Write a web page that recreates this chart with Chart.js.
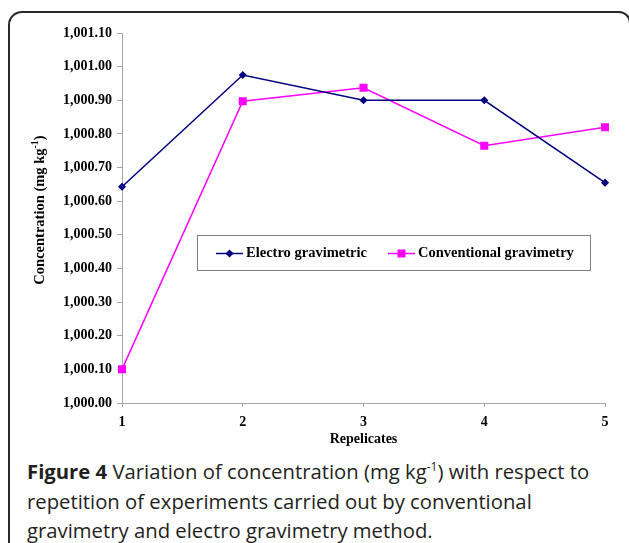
<!DOCTYPE html>
<html>
<head>
<meta charset="utf-8">
<script src="https://cdn.jsdelivr.net/npm/chart.js@4/dist/chart.umd.min.js"></script>
<style>
  html, body { margin: 0; padding: 0; background: #fff; overflow: hidden; width: 629px; height: 543px; }
  #frame { position: absolute; left: 8px; top: 11px; width: 623px; height: 600px; box-sizing: border-box;
           border: 2px solid #2a2a2a; border-radius: 14px 12px 0 0; }
  #graph { position: absolute; left: 0; top: 0; }
  #caption { position: absolute; left: 27px; top: 457px; width: 600px; font-family: "Open Sans", sans-serif;
             font-size: 20.3px; line-height: 29.5px; color: #231f20; white-space: nowrap; }
  #caption sup { font-size: 12px; line-height: 0; }
</style>
</head>
<body>
<div id="frame"></div>
<canvas id="graph" width="629" height="452"></canvas>
<div id="caption"><b>Figure 4</b> Variation of concentration (mg kg<sup>-1</sup>) with respect to<br>repetition of experiments carried out by conventional<br>gravimetry and electro gravimetry method.</div>
<script>
// Replicate numbers along the x axis
const REPLICATES = ["1", "2", "3", "4", "5"];

// Concentration readings (mg kg-1) for each method
const ELECTRO = [1000.643, 1000.975, 1000.900, 1000.900, 1000.655];
const CONVENTIONAL = [1000.100, 1000.897, 1000.937, 1000.765, 1000.820];

// Y tick values shown on the axis
const Y_TICKS = [1000.00, 1000.10, 1000.20, 1000.30, 1000.40, 1000.50, 1000.60,
                 1000.70, 1000.80, 1000.90, 1001.00, 1001.10];

const SERIF = "'Liberation Serif', 'Times New Roman', serif";
const AXIS_GREY = '#a6a6a6';

// Rotated y title with a real superscript
const yTitlePlugin = {
  id: 'yTitle',
  afterDraw(chart) {
    let ctx = chart.ctx;
    let main = "Concentration (mg kg";
    let sup = "-1";
    ctx.save();
    ctx.translate(40, 210);
    ctx.rotate(-Math.PI / 2);
    ctx.fillStyle = '#000';
    ctx.textBaseline = 'middle';
    ctx.font = "bold 14.5px " + SERIF;
    let w1 = ctx.measureText(main).width;
    ctx.font = "bold 10px " + SERIF;
    let w2 = ctx.measureText(sup).width;
    ctx.font = "bold 14.5px " + SERIF;
    let w3 = ctx.measureText(")").width;
    let x0 = -(w1 + w2 + w3) / 2;
    ctx.textAlign = 'left';
    ctx.fillText(main, x0, 0);
    ctx.font = "bold 10px " + SERIF;
    ctx.fillText(sup, x0 + w1, -5);
    ctx.font = "bold 14.5px " + SERIF;
    ctx.fillText(")", x0 + w1 + w2, 0);
    ctx.restore();
  }
};

// Boxed legend drawn inside the plot, like the original
const boxLegendPlugin = {
  id: 'boxLegend',
  afterDatasetsDraw(chart) {
    let ctx = chart.ctx;
    let x = 197, y = 235, w = 393, h = 35;
    ctx.save();
    ctx.fillStyle = '#fff';
    ctx.fillRect(x, y, w, h);
    ctx.strokeStyle = '#808080';
    ctx.lineWidth = 1;
    ctx.strokeRect(x + 0.5, y + 0.5, w, h);
    let starts = [216, 388];
    ctx.font = "bold 14.5px " + SERIF;
    ctx.textBaseline = 'middle';
    chart.data.datasets.forEach((ds, i) => {
      let sx = starts[i], cy = y + h / 2 + 1;
      ctx.strokeStyle = ds.borderColor;
      ctx.lineWidth = ds.borderWidth;
      ctx.beginPath();
      ctx.moveTo(sx, cy);
      ctx.lineTo(sx + 27, cy);
      ctx.stroke();
      ctx.fillStyle = ds.pointBackgroundColor;
      ctx.strokeStyle = ds.pointBorderColor;
      Chart.helpers.drawPoint(ctx, { pointStyle: ds.pointStyle, radius: ds.pointRadius, borderWidth: 1 }, sx + 13.5, cy);
      ctx.fillStyle = '#000';
      ctx.fillText(ds.label, sx + 30, cy);
    });
    ctx.restore();
  }
};

let ctx = document.getElementById('graph').getContext('2d');
let chart = new Chart(ctx, {
  type: 'line',
  data: {
    labels: REPLICATES,
    datasets: [{
      label: 'Electro gravimetric',
      data: ELECTRO,
      borderColor: '#000080',
      backgroundColor: '#000080',
      pointBackgroundColor: '#000080',
      pointBorderColor: '#000080',
      borderWidth: 1.5,
      pointStyle: 'rectRot',
      pointRadius: 3,
      tension: 0
    }, {
      label: 'Conventional gravimetry',
      data: CONVENTIONAL,
      borderColor: '#ff00ff',
      backgroundColor: '#ff00ff',
      pointBackgroundColor: '#ff00ff',
      pointBorderColor: '#ff00ff',
      borderWidth: 1.5,
      pointStyle: 'rect',
      pointRadius: 4.6,
      tension: 0
    }]
  },
  options: {
    responsive: false,
    animation: false,
    layout: { padding: { left: 0, right: 24, top: 33, bottom: 0 } },
    plugins: { legend: { display: false }, tooltip: { enabled: false } },
    scales: {
      x: {
        offset: false,
        border: { color: AXIS_GREY, width: 1 },
        grid: { drawOnChartArea: false, drawTicks: true, tickLength: 4, color: AXIS_GREY },
        ticks: { color: '#000', padding: 7, maxRotation: 0, font: { family: SERIF, size: 14, weight: 'bold' } },
        title: { display: true, text: 'Repelicates', color: '#000', padding: { top: 0, bottom: 4 },
                 font: { family: SERIF, size: 14, weight: 'bold' } },
        afterFit(scale) { scale.height = 49; }
      },
      y: {
        min: 1000,
        max: 1001.1,
        border: { color: AXIS_GREY, width: 1 },
        grid: { drawOnChartArea: false, drawTicks: true, tickLength: 5, color: AXIS_GREY },
        afterBuildTicks(scale) { scale.ticks = Y_TICKS.map(v => ({ value: v })); },
        ticks: {
          color: '#000',
          padding: 5,
          font: { family: SERIF, size: 14, weight: 'bold' },
          callback: (v) => (Math.round(v * 100) / 100).toLocaleString('en-US', { minimumFractionDigits: 2, maximumFractionDigits: 2 })
        },
        afterFit(scale) { scale.width = 122; }
      }
    }
  },
  plugins: [yTitlePlugin, boxLegendPlugin]
});
</script>
</body>
</html>
